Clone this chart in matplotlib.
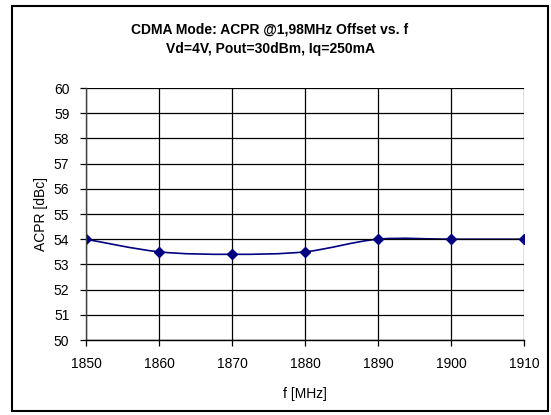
import numpy as np
import matplotlib.pyplot as plt
from matplotlib.path import Path
from matplotlib.patches import PathPatch, Rectangle

plt.rcParams['font.family'] = ['Liberation Sans', 'DejaVu Sans']

freq = [1850, 1860, 1870, 1880, 1890, 1900, 1910]
acpr = [54.0, 53.5, 53.4, 53.5, 54.0, 54.0, 54.0]
yticks = list(range(50, 61))


def smooth_path(x, y, t=1 / 6):
    # bezier path through the points (like Excel's smoothed line)
    x = np.asarray(x, float)
    y = np.asarray(y, float)
    verts = [(x[0], y[0])]
    codes = [Path.MOVETO]
    n = len(x)
    for i in range(n - 1):
        x0, y0 = (x[i - 1], y[i - 1]) if i > 0 else (x[i], y[i])
        x3, y3 = (x[i + 2], y[i + 2]) if i + 2 < n else (x[i + 1], y[i + 1])
        c1 = (x[i] + (x[i + 1] - x0) * t, y[i] + (y[i + 1] - y0) * t)
        c2 = (x[i + 1] - (x3 - x[i]) * t, y[i + 1] - (y3 - y[i]) * t)
        verts += [c1, c2, (x[i + 1], y[i + 1])]
        codes += [Path.CURVE4] * 3
    return Path(verts, codes)


fig = plt.figure(figsize=(5.51, 4.15), dpi=100)
ax = fig.add_axes([86 / 551, 1 - 340 / 415, (524 - 86) / 551, (340 - 88) / 415])

ax.add_patch(PathPatch(smooth_path(freq, acpr), fill=False, edgecolor='#000080', lw=1.2))
ax.plot(freq, acpr, ls='none', marker='D', ms=5.5, color='#000080')

ax.set_xlim(1850, 1910)
ax.set_ylim(50, 60)
ax.set_xticks(freq)
ax.set_yticks(yticks)
ax.grid(True, color='black', lw=0.9)
ax.tick_params(labelsize=10, length=4, width=0.9, direction='out', pad=8)
for s in ['top', 'right']:
    ax.spines[s].set_visible(False)
ax.spines['left'].set_color('#404040')
ax.spines['bottom'].set_color('black')
for s in ax.spines.values():
    s.set_linewidth(1.0)

ax.set_xlabel('f [MHz]', fontsize=10, labelpad=12)
ax.set_ylabel('ACPR [dBc]', fontsize=10, labelpad=4)

fig.text(270 / 551, 1 - 30 / 415, 'CDMA Mode: ACPR @1,98MHz Offset vs. f',
         ha='center', va='center', fontsize=10, fontweight='bold')
fig.text(270 / 551, 1 - 49 / 415, 'Vd=4V, Pout=30dBm, Iq=250mA',
         ha='center', va='center', fontsize=10, fontweight='bold')

fig.patches.append(Rectangle((12 / 551, 1 - 411 / 415), (548 - 12) / 551, (411 - 6) / 415,
                             transform=fig.transFigure, fill=False, edgecolor='black', lw=1.5))

fig.savefig('out.png', dpi=100)
